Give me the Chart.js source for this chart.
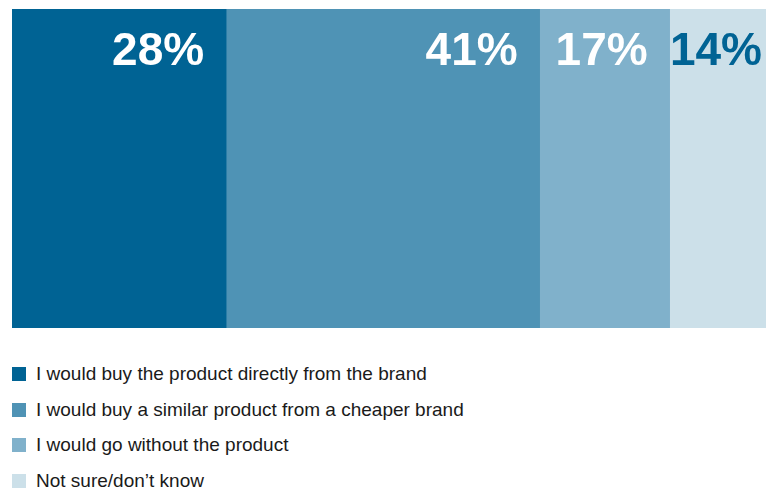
<!DOCTYPE html>
<html>
<head>
<meta charset="utf-8">
<script src="https://cdn.jsdelivr.net/npm/chart.js@4/dist/chart.umd.min.js"></script>
<style>
  body { margin: 0; background: #fff; font-family: "Liberation Sans", Arial, sans-serif; }
  #wrap { position: relative; width: 766px; height: 488px; }
  #box { position: absolute; left: 0; top: 0; width: 766px; height: 330px; }
  #legend { position: absolute; left: 12px; top: 356px; }
  .item { display: flex; align-items: center; height: 35.7px; font-size: 19px; color: #1a1a1a; }
  .swatch { width: 14px; height: 14px; margin-right: 10px; }
</style>
</head>
<body>
<div id="wrap">
  <div id="box"><canvas id="chart"></canvas></div>
  <div id="legend"></div>
</div>
<script>
const answers = [
  "I would buy the product directly from the brand",
  "I would buy a similar product from a cheaper brand",
  "I would go without the product",
  "Not sure/don\u2019t know"
];
const shares = [28, 41, 17, 14];
const colors = ["#006394", "#4f93b5", "#80b1cb", "#cce0e9"];
const labelColors = ["#ffffff", "#ffffff", "#ffffff", "#006394"];

// percent labels, right aligned inside each segment
const valueLabels = {
  id: "valueLabels",
  afterDatasetsDraw(chart) {
    const ctx = chart.ctx;
    const area = chart.chartArea;
    ctx.save();
    ctx.font = "bold 46px 'Liberation Sans', Arial, sans-serif";
    ctx.textAlign = "right";
    ctx.textBaseline = "alphabetic";
    chart.data.datasets.forEach((ds, i) => {
      const el = chart.getDatasetMeta(i).data[0];
      // last segment runs past the edge, so pin its label to the edge
      const x = el.x > area.right ? area.right - 4 : el.x - 22;
      ctx.fillStyle = labelColors[i];
      ctx.fillText(ds.data[0] + "%", x, area.top + 56);
    });
    ctx.restore();
  }
};

new Chart(document.getElementById("chart"), {
  type: "bar",
  data: {
    labels: [""],
    datasets: answers.map((a, i) => ({
      label: a,
      data: [shares[i]],
      backgroundColor: colors[i],
      borderWidth: 0,
      barPercentage: 1,
      categoryPercentage: 1
    }))
  },
  options: {
    indexAxis: "y",
    responsive: true,
    maintainAspectRatio: false,
    animation: false,
    layout: { padding: { left: 12, right: 0, top: 9, bottom: 2 } },
    plugins: { legend: { display: false }, tooltip: { enabled: false } },
    scales: {
      x: { stacked: true, min: 0, max: 98.6, display: false },
      y: { stacked: true, display: false }
    }
  },
  plugins: [valueLabels]
});

const legend = document.getElementById("legend");
answers.forEach((a, i) => {
  const row = document.createElement("div");
  row.className = "item";
  row.innerHTML = '<span class="swatch" style="background:' + colors[i] + '"></span>' + a;
  legend.appendChild(row);
});
</script>
</body>
</html>
